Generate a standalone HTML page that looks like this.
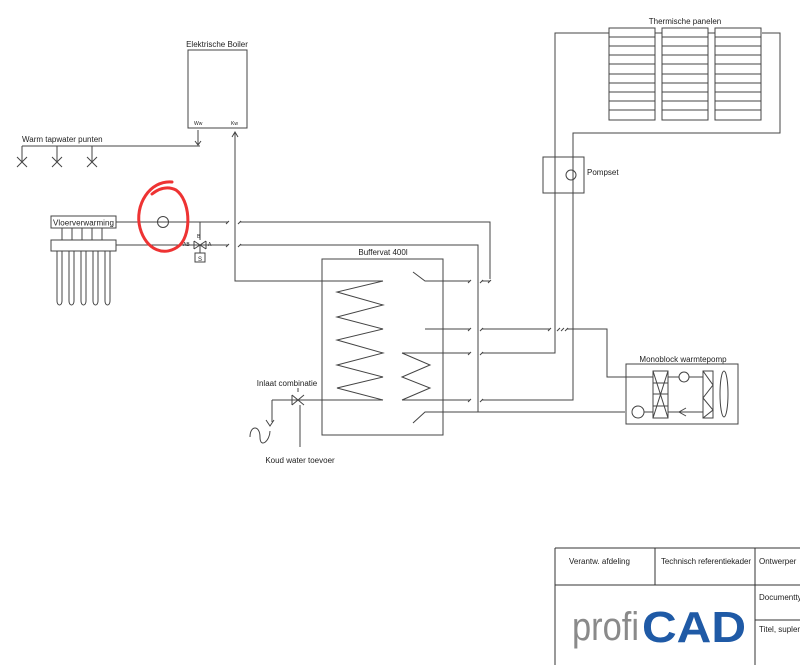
<!DOCTYPE html><html><head><style>body{margin:0;background:#fff}svg{display:block}text{font-family:"Liberation Sans",sans-serif;fill:#222}</style></head><body>
<svg width="800" height="665" viewBox="0 0 800 665" xmlns="http://www.w3.org/2000/svg">
<g fill="none" stroke="#444" stroke-width="1">
<rect x="188" y="50" width="59" height="78"/>
<path d="M198 130V145M195 141l3 4 3-4M22 146H200M22 146v16M57 146v16M92 146v16M17 157l10 10M27 157l-10 10M52 157l10 10M62 157l-10 10M87 157l10 10M97 157l-10 10"/>
<path d="M235 132V281H383M232 137l3-5 3 5"/>
<rect x="51" y="216" width="65" height="12"/><rect x="51" y="240" width="65" height="11"/>
<path d="M62 228v12M72 228v12M82 228v12M92 228v12M102 228v12"/>
<path d="M57 251v50a2.5 4 0 0 0 5 0v-50M69 251v50a2.5 4 0 0 0 5 0v-50M81 251v50a2.5 4 0 0 0 5 0v-50M93 251v50a2.5 4 0 0 0 5 0v-50M105 251v50a2.5 4 0 0 0 5 0v-50"/>
<path d="M116 222H228M240 222H490V279M116 245H228M240 245H478V412"/>
<path d="M226 224l3-3M238 224l3-3M226 247l3-3M238 247l3-3M488 283l3-3"/>
<circle cx="163" cy="222" r="5.5"/>
<path d="M200 222V240M194 241l12 8M194 249l12-8M194 241v8M206 241v8M200 245v8"/>
<rect x="195" y="253" width="10" height="9"/>
<rect x="322" y="259" width="121" height="176"/>
<path d="M383 281L337 292L383 305L337 317L383 329L337 340L383 353L337 365L383 377L337 388L383 400"/>
<path d="M402 353L430 365L402 377L430 388L402 400"/>
<path d="M413 272L425 281H470M425 329H470M402 353H470M402 400H470M272 400H383M413 423L425 412H625"/>
<path d="M468 283l3-3M468 331l3-3M468 355l3-3M468 402l3-3M480 283l3-3M480 331l3-3M480 355l3-3M480 402l3-3"/>
<path d="M482 281H490M482 329H550M567 329H607V377H653M482 353H555V33H609M482 400H573V133H780V33H762"/>
<path d="M548 331l3-3M557 331l3-3M561 331l3-3M565 331l3-3"/>
<path d="M655 33h7M708 33h7"/>
<rect x="543" y="157" width="41" height="36"/><circle cx="571" cy="175" r="5"/>
<g id="p"><rect x="609" y="28" width="46" height="92"/><path d="M609 37h46M609 46h46M609 55h46M609 64h46M609 74h46M609 83h46M609 92h46M609 101h46M609 110h46"/></g>
<use href="#p" x="53"/><use href="#p" x="106"/>
<rect x="626" y="364" width="112" height="60"/>
<rect x="653" y="371" width="15" height="47"/><path d="M653 371L668 418M668 371L653 418M653 394h15M653 383h15M653 406h15"/>
<circle cx="684" cy="377" r="5"/><path d="M668 377h11M689 377h14M668 412h35M686 408l-7 4 7 4"/>
<rect x="703" y="371" width="10" height="47"/><path d="M703 371L713 385L703 398L713 410L703 418"/>
<ellipse cx="724" cy="394" rx="4" ry="23"/>
<circle cx="638" cy="412" r="6"/><path d="M644 412h9"/>
<path d="M292 395l12 10M292 405l12-10M292 395v10M298 392v-4M300 405v42M272 400v22M266 420l4 6 4-6M250 437c0-12 10-12 10 0s10 4 10-6"/>
</g>
<path d="M172 182C150 180 134 205 140 228C146 250 165 258 180 245C192 232 190 200 176 190C166 185 157 190 152 194" fill="none" stroke="#e33" stroke-width="3" stroke-linecap="round"/>
<g font-size="8">
<text x="217" y="47" text-anchor="middle">Elektrische Boiler</text>
<text x="22" y="142">Warm tapwater punten</text>
<text x="53" y="225.5" textLength="61">Vloerverwarming</text>
<text x="383" y="255" text-anchor="middle">Buffervat 400l</text>
<text x="287" y="386" text-anchor="middle">Inlaat combinatie</text>
<text x="300" y="463" text-anchor="middle">Koud water toevoer</text>
<text x="587" y="175">Pompset</text>
<text x="685" y="24" text-anchor="middle">Thermische panelen</text>
<text x="683" y="362" text-anchor="middle">Monoblock warmtepomp</text>
<text x="194" y="125" font-size="5">Ww</text><text x="231" y="125" font-size="5">Kw</text>
<text x="183" y="246" font-size="5">AB</text><text x="208" y="246" font-size="5">A</text><text x="197" y="238" font-size="5">B</text><text x="198" y="261" font-size="6">S</text>
</g>
<g fill="none" stroke="#333" stroke-width="1"><path d="M555 548H800M555 585H800M555 548V665M655 548V585M755 548V665M755 620H800"/></g>
<g font-size="8"><text x="569" y="564">Verantw. afdeling</text><text x="661" y="564" textLength="90">Technisch referentiekader</text><text x="759" y="564">Ontwerper</text><text x="759" y="600">Documentty</text><text x="759" y="632">Titel, suplen</text></g>
<text x="572" y="640" font-size="40" textLength="67" lengthAdjust="spacingAndGlyphs" style="fill:#8a8a8a">profi</text>
<text x="642" y="642" font-size="44" font-weight="bold" textLength="104" lengthAdjust="spacingAndGlyphs" style="fill:#1f5aa6">CAD</text>
</svg></body></html>
